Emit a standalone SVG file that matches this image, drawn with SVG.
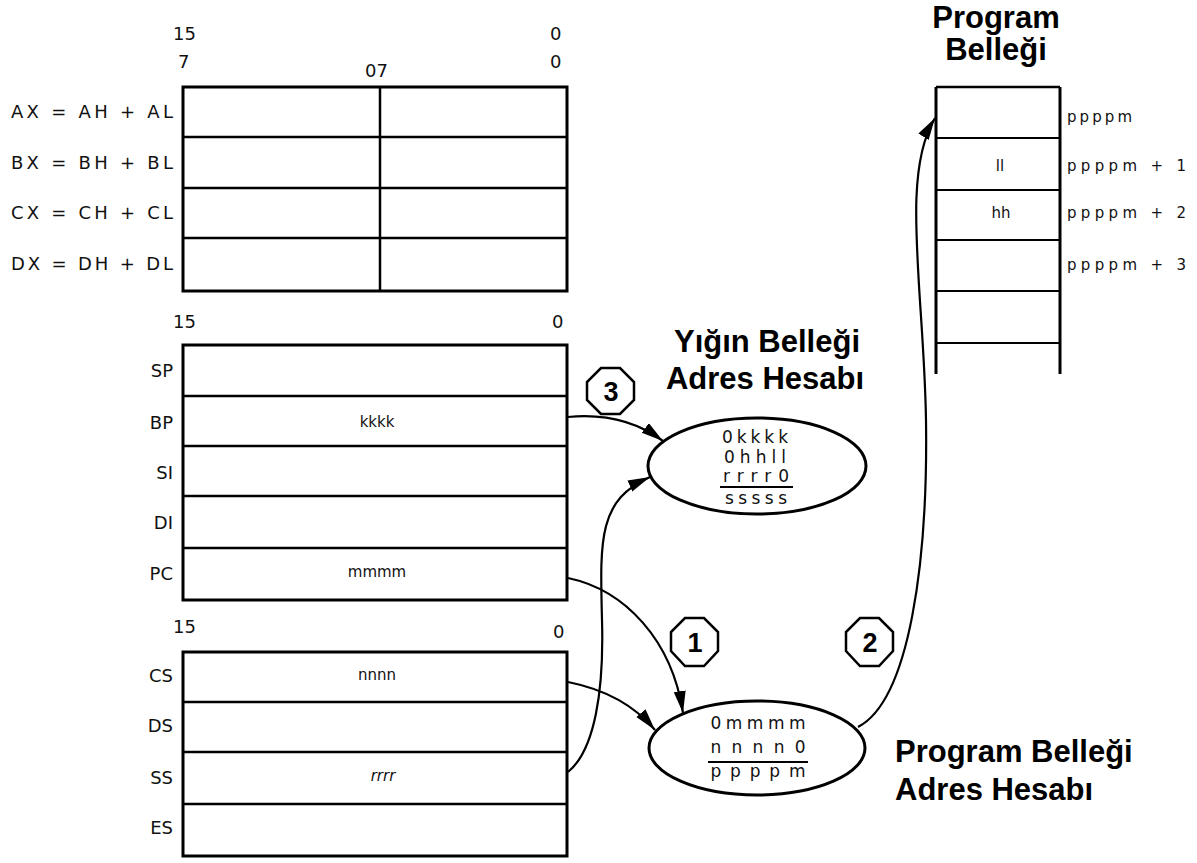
<svg xmlns="http://www.w3.org/2000/svg" width="1197" height="863" viewBox="0 0 1197 863">
<style>
.box{fill:none;stroke:#000;stroke-width:3}
.ln{stroke:#000;stroke-width:2.5}
.thin{stroke:#000;stroke-width:2}
.lbl{font-family:"DejaVu Sans",sans-serif;font-size:18px;fill:#111}
.bit{font-family:"DejaVu Sans",sans-serif;font-size:18px;fill:#111}
.val{font-family:"DejaVu Sans",sans-serif;font-size:15px;fill:#111}
.ell{fill:#fff;stroke:#000;stroke-width:3}
.et{font-family:"DejaVu Sans",sans-serif;font-size:17px;fill:#111;text-anchor:middle}
.title{font-family:"Liberation Sans",Arial,sans-serif;font-size:31px;font-weight:bold;fill:#000}
.oct{fill:#fff;stroke:#000;stroke-width:2.5}
.num{font-family:"Liberation Sans",Arial,sans-serif;font-size:27px;font-weight:bold;fill:#000;text-anchor:middle}
.conn{fill:none;stroke:#000;stroke-width:2.2}
</style>
<defs>
<marker id="ah" markerUnits="userSpaceOnUse" markerWidth="24" markerHeight="14" refX="22" refY="6" orient="auto">
<path d="M0,0 L22,6 L0,12 z" fill="#000"/>
</marker>
</defs>

<g id="general-registers">
<text class="bit" x="173" y="40">15</text>
<text class="bit" x="550" y="40">0</text>
<text class="bit" x="178" y="68">7</text>
<text class="bit" x="365" y="77">07</text>
<text class="bit" x="550" y="68">0</text>
<rect class="box" x="183" y="87" width="384" height="204"/>
<line class="ln" x1="183" y1="137" x2="567" y2="137"/>
<line class="ln" x1="183" y1="188" x2="567" y2="188"/>
<line class="ln" x1="183" y1="238" x2="567" y2="238"/>
<line class="ln" x1="380" y1="87" x2="380" y2="291"/>
<text class="lbl" x="173" y="118" text-anchor="end" textLength="162" lengthAdjust="spacing">AX = AH + AL</text>
<text class="lbl" x="173" y="169" text-anchor="end" textLength="162" lengthAdjust="spacing">BX = BH + BL</text>
<text class="lbl" x="173" y="219" text-anchor="end" textLength="162" lengthAdjust="spacing">CX = CH + CL</text>
<text class="lbl" x="173" y="270" text-anchor="end" textLength="162" lengthAdjust="spacing">DX = DH + DL</text>
</g>

<g id="pointer-registers">
<text class="bit" x="173" y="328">15</text>
<text class="bit" x="552" y="328">0</text>
<rect class="box" x="183" y="345" width="384" height="255"/>
<line class="ln" x1="183" y1="396" x2="567" y2="396"/>
<line class="ln" x1="183" y1="446" x2="567" y2="446"/>
<line class="ln" x1="183" y1="496" x2="567" y2="496"/>
<line class="ln" x1="183" y1="548" x2="567" y2="548"/>
<text class="lbl" x="173" y="377" text-anchor="end">SP</text>
<text class="lbl" x="173" y="429" text-anchor="end">BP</text>
<text class="lbl" x="173" y="479" text-anchor="end">SI</text>
<text class="lbl" x="173" y="529" text-anchor="end">DI</text>
<text class="lbl" x="173" y="580" text-anchor="end">PC</text>
<text class="val" x="377" y="427" text-anchor="middle">kkkk</text>
<text class="val" x="377" y="577" text-anchor="middle">mmmm</text>
</g>

<g id="segment-registers">
<text class="bit" x="173" y="633">15</text>
<text class="bit" x="553" y="638">0</text>
<rect class="box" x="183" y="652" width="384" height="204"/>
<line class="ln" x1="183" y1="702" x2="567" y2="702"/>
<line class="ln" x1="183" y1="752" x2="567" y2="752"/>
<line class="ln" x1="183" y1="804" x2="567" y2="804"/>
<text class="lbl" x="173" y="682" text-anchor="end">CS</text>
<text class="lbl" x="173" y="732" text-anchor="end">DS</text>
<text class="lbl" x="173" y="784" text-anchor="end">SS</text>
<text class="lbl" x="173" y="834" text-anchor="end">ES</text>
<text class="val" x="377" y="680" text-anchor="middle">nnnn</text>
<text class="val" x="383" y="781" text-anchor="middle" font-style="italic">rrrr</text>
</g>

<g id="program-memory">
<text class="title" x="996" y="28" text-anchor="middle">Program</text>
<text class="title" x="996" y="60" text-anchor="middle">Belleği</text>
<line class="box" x1="936" y1="87" x2="936" y2="374"/>
<line class="box" x1="1060" y1="87" x2="1060" y2="374"/>
<line class="ln" x1="936" y1="87" x2="1060" y2="87"/>
<line class="thin" x1="936" y1="138" x2="1060" y2="138"/>
<line class="thin" x1="936" y1="190" x2="1060" y2="190"/>
<line class="thin" x1="936" y1="240" x2="1060" y2="240"/>
<line class="thin" x1="936" y1="291" x2="1060" y2="291"/>
<line class="thin" x1="936" y1="343" x2="1060" y2="343"/>
<text class="val" x="1000" y="171" text-anchor="middle">ll</text>
<text class="val" x="1001" y="218" text-anchor="middle">hh</text>
<text class="val" x="1067" y="122" textLength="65" lengthAdjust="spacing">ppppm</text>
<text class="val" x="1067" y="171" textLength="119" lengthAdjust="spacing">ppppm + 1</text>
<text class="val" x="1067" y="218" textLength="119" lengthAdjust="spacing">ppppm + 2</text>
<text class="val" x="1067" y="270" textLength="119" lengthAdjust="spacing">ppppm + 3</text>
</g>

<g id="stack-address">
<text class="title" x="767" y="352" text-anchor="middle">Yığın Belleği</text>
<text class="title" x="765" y="389" text-anchor="middle">Adres Hesabı</text>
<ellipse class="ell" cx="757" cy="466" rx="109" ry="48"/>
<text class="et" x="755" y="443" font-size="16" textLength="66" lengthAdjust="spacing">0kkkk</text>
<text class="et" x="755" y="463" font-size="16" textLength="62" lengthAdjust="spacing">0hhll</text>
<text class="et" x="756" y="482" font-size="16" textLength="66" lengthAdjust="spacing">rrrr0</text>
<line class="thin" x1="720" y1="487" x2="793" y2="487"/>
<text class="et" x="756" y="504" font-size="16" textLength="62" lengthAdjust="spacing">sssss</text>
</g>

<g id="program-address">
<ellipse class="ell" cx="757" cy="748" rx="108" ry="47"/>
<text class="et" x="758" y="729" textLength="95" lengthAdjust="spacing">0mmmm</text>
<text class="et" x="758" y="753" textLength="95" lengthAdjust="spacing">nnnn0</text>
<line class="thin" x1="708" y1="762" x2="808" y2="762"/>
<text class="et" x="758" y="777" textLength="95" lengthAdjust="spacing">ppppm</text>
<text class="title" x="895" y="762">Program Belleği</text>
<text class="title" x="895" y="800">Adres Hesabı</text>
</g>

<g id="connectors">
<path class="conn" d="M568,417 C610,413 640,424 663,441" marker-end="url(#ah)"/>
<path class="conn" d="M568,772 C595,750 604,690 602,620 C600,540 598,500 650,477" marker-end="url(#ah)"/>
<path class="conn" d="M568,578 C625,590 672,640 683,713" marker-end="url(#ah)"/>
<path class="conn" d="M568,682 C608,690 635,706 655,730" marker-end="url(#ah)"/>
<path class="conn" d="M858,727 C910,700 928,560 926,420 C924,290 900,175 935,118" marker-end="url(#ah)"/>
</g>

<g id="step-1">
<path class="oct" d="M685,618 L704,618 L718,632 L718,651 L704,666 L685,666 L671,651 L671,632 z"/>
<text class="num" x="695" y="652">1</text>
</g>
<g id="step-2">
<path class="oct" d="M860,618 L879,618 L893,632 L893,651 L879,666 L860,666 L846,651 L846,632 z"/>
<text class="num" x="870" y="652">2</text>
</g>
<g id="step-3">
<path class="oct" d="M601,368 L620,368 L634,382 L634,400 L620,414 L601,414 L587,400 L587,382 z"/>
<text class="num" x="611" y="401">3</text>
</g>
</svg>
